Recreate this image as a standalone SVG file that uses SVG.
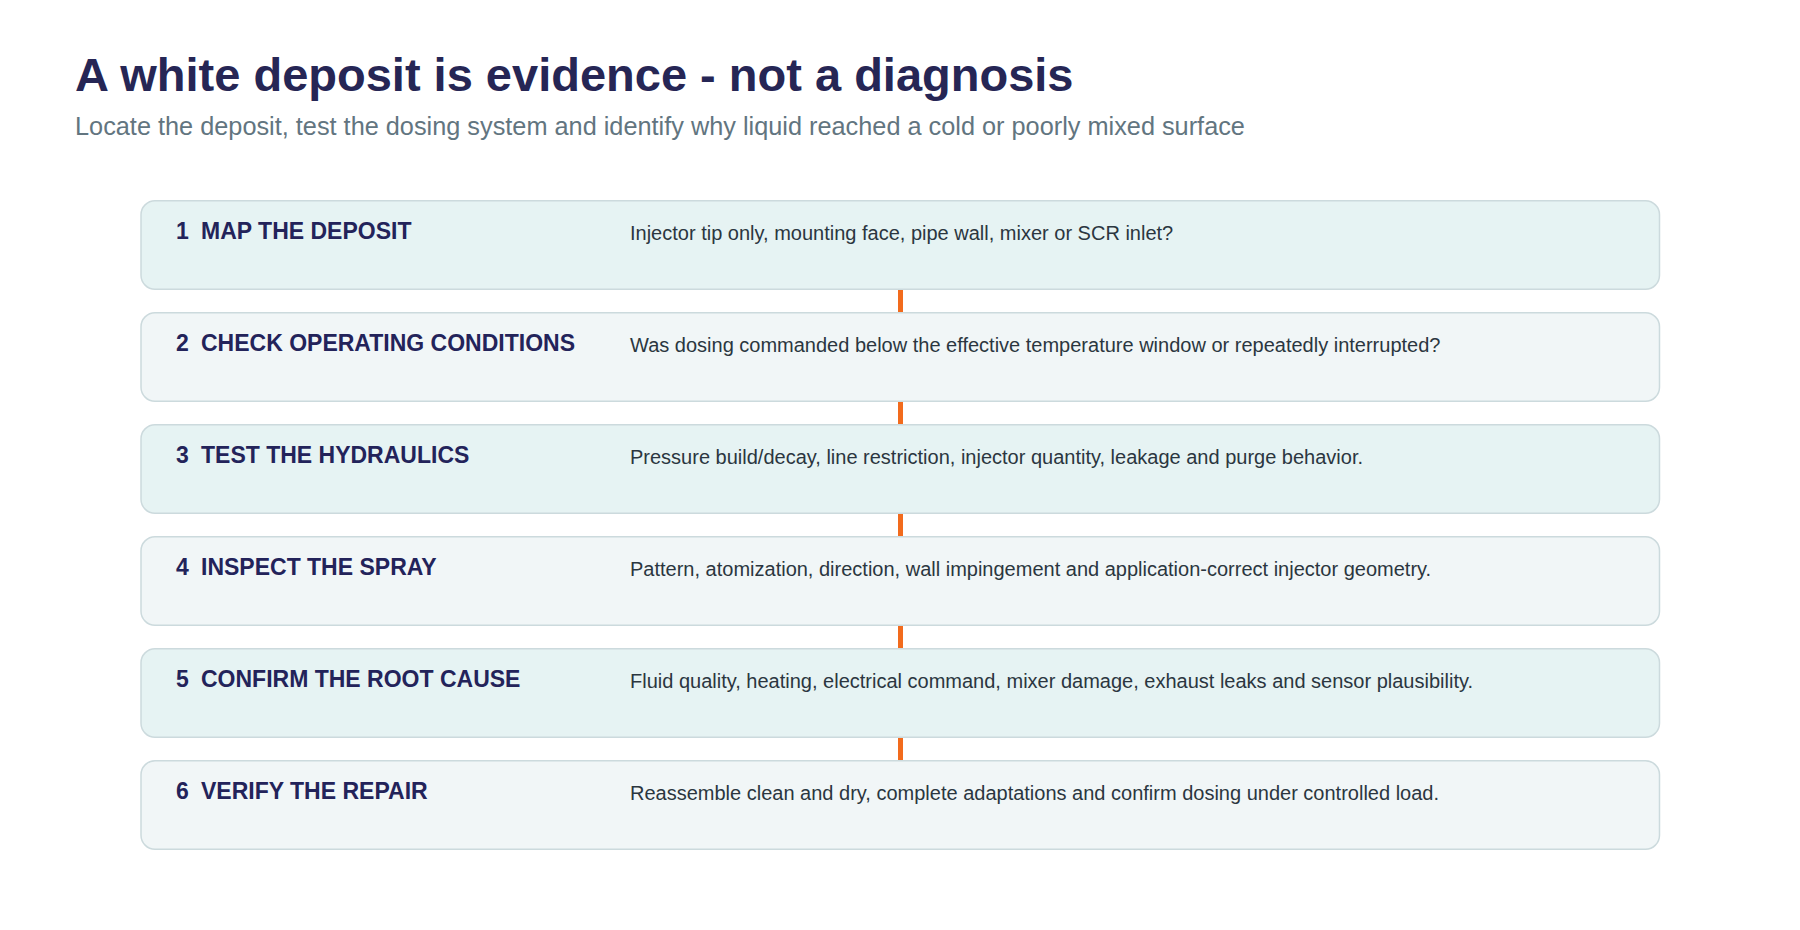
<svg xmlns="http://www.w3.org/2000/svg" width="1800" height="930" viewBox="0 0 1800 930">
<style>
.title{font-family:"Liberation Sans",Arial,sans-serif;font-weight:bold;font-size:47px;fill:#262655}
.sub{font-family:"Liberation Sans",Arial,sans-serif;font-size:25.3px;fill:#627580}
.box{stroke:#ccdadd;stroke-width:1.5}
.odd{fill:#e6f3f3}
.even{fill:#f1f6f7}
.lbl{font-family:"Liberation Sans",Arial,sans-serif;font-weight:bold;font-size:23px;fill:#23235a}
.desc{font-family:"Liberation Sans",Arial,sans-serif;font-size:20px;fill:#2b3640}
.conn{stroke:#f26b1d;stroke-width:5}
</style>
<rect width="1800" height="930" fill="#ffffff"/>
<text class="title" x="75" y="91">A white deposit is evidence - not a diagnosis</text>
<text class="sub" x="75" y="135">Locate the deposit, test the dosing system and identify why liquid reached a cold or poorly mixed surface</text>
<g id="connectors">
<line class="conn" x1="900.5" y1="290" x2="900.5" y2="312"/>
<line class="conn" x1="900.5" y1="402" x2="900.5" y2="424"/>
<line class="conn" x1="900.5" y1="514" x2="900.5" y2="536"/>
<line class="conn" x1="900.5" y1="626" x2="900.5" y2="648"/>
<line class="conn" x1="900.5" y1="738" x2="900.5" y2="760"/>
</g>
<g id="step1">
<rect class="box odd" x="141" y="200.75" width="1518.5" height="88.5" rx="14"/>
<text class="lbl" x="176" y="239">1</text><text class="lbl" x="201" y="239">MAP THE DEPOSIT</text>
<text class="desc" x="630" y="240">Injector tip only, mounting face, pipe wall, mixer or SCR inlet?</text>
</g>
<g id="step2">
<rect class="box even" x="141" y="312.75" width="1518.5" height="88.5" rx="14"/>
<text class="lbl" x="176" y="351">2</text><text class="lbl" x="201" y="351">CHECK OPERATING CONDITIONS</text>
<text class="desc" x="630" y="352">Was dosing commanded below the effective temperature window or repeatedly interrupted?</text>
</g>
<g id="step3">
<rect class="box odd" x="141" y="424.75" width="1518.5" height="88.5" rx="14"/>
<text class="lbl" x="176" y="463">3</text><text class="lbl" x="201" y="463">TEST THE HYDRAULICS</text>
<text class="desc" x="630" y="464">Pressure build/decay, line restriction, injector quantity, leakage and purge behavior.</text>
</g>
<g id="step4">
<rect class="box even" x="141" y="536.75" width="1518.5" height="88.5" rx="14"/>
<text class="lbl" x="176" y="575">4</text><text class="lbl" x="201" y="575">INSPECT THE SPRAY</text>
<text class="desc" x="630" y="576">Pattern, atomization, direction, wall impingement and application-correct injector geometry.</text>
</g>
<g id="step5">
<rect class="box odd" x="141" y="648.75" width="1518.5" height="88.5" rx="14"/>
<text class="lbl" x="176" y="687">5</text><text class="lbl" x="201" y="687">CONFIRM THE ROOT CAUSE</text>
<text class="desc" x="630" y="688">Fluid quality, heating, electrical command, mixer damage, exhaust leaks and sensor plausibility.</text>
</g>
<g id="step6">
<rect class="box even" x="141" y="760.75" width="1518.5" height="88.5" rx="14"/>
<text class="lbl" x="176" y="799">6</text><text class="lbl" x="201" y="799">VERIFY THE REPAIR</text>
<text class="desc" x="630" y="800">Reassemble clean and dry, complete adaptations and confirm dosing under controlled load.</text>
</g>
</svg>
